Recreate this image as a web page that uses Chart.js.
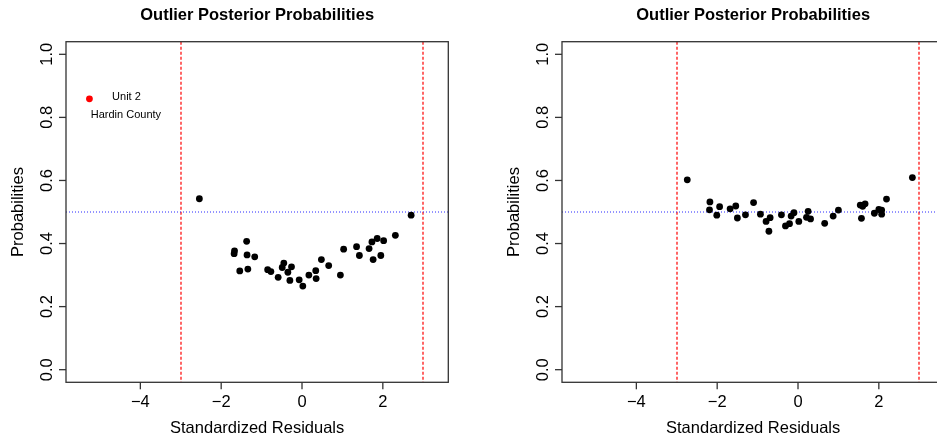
<!DOCTYPE html>
<html>
<head>
<meta charset="utf-8">
<script src="https://cdn.jsdelivr.net/npm/chart.js@4.4.1/dist/chart.umd.min.js"></script>
<style>
html, body { margin: 0; padding: 0; background: #fff; overflow: hidden; }
#wrap { position: relative; width: 937px; height: 440px; overflow: hidden; }
.panel { position: absolute; top: 0; width: 497px; height: 440px; }
</style>
</head>
<body>
<div id="wrap">
    <div class="panel" style="left:0"><canvas id="chartLeft" width="497" height="440"></canvas></div>
    <div class="panel" style="left:496px"><canvas id="chartRight" width="497" height="440"></canvas></div>
</div>
<script>
// ── Dati ──────────────────────────────────────
const leftResid = [-2.54, 2.70, -1.67, -1.68, -1.37, -1.36, -1.17, -1.54, -1.34, -0.85, -0.77, -0.59,
                   -0.45, -0.49, -0.35, -0.26, -0.30, -0.07, 0.02, 0.17, 0.34, 0.35, 0.48, 0.66,
                   0.95, 1.03, 1.35, 1.42, 1.66, 1.73, 1.86, 2.02, 1.76, 1.95, 2.31];
const leftProb  = [0.542, 0.490, 0.377, 0.368, 0.407, 0.364, 0.358, 0.313, 0.319, 0.317, 0.311, 0.293,
                   0.338, 0.324, 0.309, 0.326, 0.283, 0.285, 0.265, 0.300, 0.314, 0.289, 0.349, 0.330,
                   0.300, 0.382, 0.390, 0.362, 0.384, 0.405, 0.416, 0.409, 0.349, 0.362, 0.426];

const rightResid = [-2.74, 2.83, -2.18, -2.19, -2.01, -1.94, -1.68, -1.54, -1.50, -1.30, -1.10, -0.93,
                    -0.79, -0.69, -0.72, -0.41, -0.31, -0.21, -0.17, -0.10, 0.02, 0.21, 0.25, 0.31,
                    0.66, 0.87, 1.00, 1.54, 1.60, 1.66, 1.57, 1.89, 2.00, 2.07, 2.07, 2.19];
const rightProb  = [0.602, 0.609, 0.532, 0.507, 0.490, 0.517, 0.510, 0.519, 0.481, 0.491, 0.530, 0.493,
                    0.470, 0.482, 0.439, 0.491, 0.456, 0.463, 0.487, 0.498, 0.470, 0.483, 0.502, 0.478,
                    0.464, 0.487, 0.506, 0.522, 0.518, 0.526, 0.480, 0.496, 0.508, 0.506, 0.493, 0.541];

// punto evidenziato (legenda manuale)
const unitResid  = [-5.26];
const unitProb   = [0.859];
const unitLabels = ['Unit 2', 'Hardin County'];

const xTicks  = [-4, -2, 0, 2];
const yTicks  = [0, 0.2, 0.4, 0.6, 0.8, 1.0];
const cutoffs = [-3, 3];
const refProb = [0.5];
const xRange  = [-5.84, 3.62];
const yRange  = [-0.04, 1.04];

const TITLE  = 'Outlier Posterior Probabilities';
const XLABEL = 'Standardized Residuals';
const YLABEL = 'Probabilities';
const FONT   = '"Liberation Sans", Arial, Helvetica, sans-serif';

const toPoints = (xs, ys) => xs.map((x, i) => ({ x, y: ys[i] }));
const fmtX = v => (v < 0 ? '\u2212' + Math.abs(v) : String(v));

// ── Assi stile R ──────────────────────────────
const rAxesPlugin = {
    id: 'rAxes',
    beforeDatasetsDraw(chart) {
        const { ctx, chartArea: a, scales: { x, y } } = chart;
        ctx.save();
        // linee di cutoff rosse tratteggiate
        ctx.strokeStyle = 'rgb(255,0,0)';
        ctx.lineWidth = 1.2;
        ctx.setLineDash([3, 2]);
        cutoffs.forEach(c => {
            const px = Math.round(x.getPixelForValue(c));
            ctx.beginPath(); ctx.moveTo(px, a.top); ctx.lineTo(px, a.bottom); ctx.stroke();
        });
        // riferimento blu punteggiato
        ctx.strokeStyle = 'rgb(40,40,255)';
        ctx.lineWidth = 1;
        ctx.setLineDash([1, 2]);
        refProb.forEach(r => {
            const py = Math.round(y.getPixelForValue(r));
            ctx.beginPath(); ctx.moveTo(a.left, py); ctx.lineTo(a.right, py); ctx.stroke();
        });
        ctx.restore();
    },
    afterDraw(chart) {
        const { ctx, chartArea: a, scales: { x, y } } = chart;
        ctx.save();
        ctx.strokeStyle = '#333';
        ctx.lineWidth = 1.3;
        ctx.strokeRect(a.left, a.top, a.right - a.left, a.bottom - a.top);

        ctx.fillStyle = '#000';
        ctx.font = `16.5px ${FONT}`;
        ctx.textAlign = 'center';
        ctx.textBaseline = 'alphabetic';

        // asse x
        xTicks.forEach(t => {
            const px = x.getPixelForValue(t);
            ctx.beginPath(); ctx.moveTo(px, a.bottom); ctx.lineTo(px, a.bottom + 7); ctx.stroke();
            ctx.fillText(fmtX(t), px, a.bottom + 25);
        });
        ctx.fillText(XLABEL, (a.left + a.right) / 2, a.bottom + 51);

        // asse y (etichette ruotate)
        yTicks.forEach(t => {
            const py = y.getPixelForValue(t);
            ctx.beginPath(); ctx.moveTo(a.left, py); ctx.lineTo(a.left - 7, py); ctx.stroke();
            ctx.save();
            ctx.translate(a.left - 14.3, py);
            ctx.rotate(-Math.PI / 2);
            ctx.fillText(t.toFixed(1), 0, 0);
            ctx.restore();
        });
        ctx.save();
        ctx.translate(a.left - 42.7, (a.top + a.bottom) / 2);
        ctx.rotate(-Math.PI / 2);
        ctx.fillText(YLABEL, 0, 0);
        ctx.restore();

        // titolo
        ctx.font = `bold 16.5px ${FONT}`;
        ctx.fillText(TITLE, (a.left + a.right) / 2, 20);

        // etichetta del punto evidenziato
        const meta = chart.options.plugins.rAxes;
        if (meta && meta.showUnit) {
            const ux = x.getPixelForValue(unitResid[0]);
            const uy = y.getPixelForValue(unitProb[0]);
            ctx.font = `11px ${FONT}`;
            ctx.fillText(unitLabels[0], ux + 37, uy + 1);
            ctx.fillText(unitLabels[1], ux + 36.5, uy + 19.5);
        }
        ctx.restore();
    }
};

// ── Grafici ───────────────────────────────────
function makeChart(canvasId, xs, ys, showUnit) {
    const datasets = [{
        data: toPoints(xs, ys),
        backgroundColor: '#000',
        borderWidth: 0,
        pointRadius: 3.4,
        pointHoverRadius: 3.4
    }];
    if (showUnit) {
        datasets.push({
            data: toPoints(unitResid, unitProb),
            backgroundColor: '#f00',
            borderWidth: 0,
            pointRadius: 3.4,
            pointHoverRadius: 3.4
        });
    }
    return new Chart(document.getElementById(canvasId).getContext('2d'), {
        type: 'scatter',
        data: { datasets },
        options: {
            responsive: false,
            animation: false,
            events: [],
            layout: { padding: { left: 66, right: 48.7, top: 41.7, bottom: 57.7 } },
            plugins: {
                legend: { display: false },
                tooltip: { enabled: false },
                rAxes: { showUnit }
            },
            scales: {
                x: { type: 'linear', min: xRange[0], max: xRange[1], display: false },
                y: { type: 'linear', min: yRange[0], max: yRange[1], display: false }
            }
        },
        plugins: [rAxesPlugin]
    });
}

makeChart('chartLeft', leftResid, leftProb, true);
makeChart('chartRight', rightResid, rightProb, false);
</script>
</body>
</html>
